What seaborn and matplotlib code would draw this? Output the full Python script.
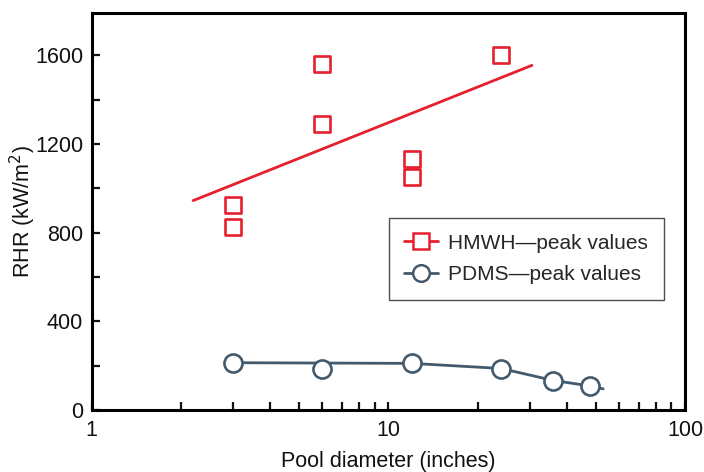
import numpy as np
import pandas as pd
import seaborn as sns
import matplotlib.pyplot as plt
from matplotlib.lines import Line2D
from matplotlib.ticker import FixedLocator, NullFormatter

# HMWH peak values (squares) and the fitted trend line
hmwh_diam = [3, 3, 6, 6, 12, 12, 24]
hmwh_rhr = [926, 828, 1560, 1289, 1131, 1053, 1603]
hmwh_fit_diam = [2.2, 30.5]
hmwh_fit_rhr = [945, 1555]

# PDMS peak values (circles) and the drawn curve
pdms_diam = [3, 6, 12, 24, 36, 48]
pdms_rhr = [214, 184, 211, 184, 132, 107]
pdms_curve_diam = [3, 12, 24, 36, 48, 53]
pdms_curve_rhr = [214, 211, 188, 134, 109, 96]

red = '#E5202E'
slate = '#435A6D'

sns.set_style('ticks')
plt.rcParams['font.family'] = ['Liberation Sans', 'DejaVu Sans']

fig = plt.figure(figsize=(7.04, 4.72), dpi=100)
ax = fig.add_axes([0.130, 0.131, 0.843, 0.841])

hmwh = pd.DataFrame({'diam': hmwh_diam, 'rhr': hmwh_rhr})
pdms = pd.DataFrame({'diam': pdms_diam, 'rhr': pdms_rhr})

# trend lines first, markers on top
sns.lineplot(x=hmwh_fit_diam, y=hmwh_fit_rhr, color=red, linewidth=2.0, ax=ax, zorder=2)
sns.lineplot(x=pdms_curve_diam, y=pdms_curve_rhr, color=slate, linewidth=2.0, ax=ax, zorder=2)
sns.scatterplot(data=hmwh, x='diam', y='rhr', marker='s', s=140, facecolor='white',
                edgecolor=red, linewidth=1.9, ax=ax, zorder=3)
sns.scatterplot(data=pdms, x='diam', y='rhr', marker='o', s=170, facecolor='white',
                edgecolor=slate, linewidth=1.9, ax=ax, zorder=3)

ax.set_xscale('log')
ax.set_xlim(1, 100)
ax.set_ylim(0, 1790)

ax.xaxis.set_major_locator(FixedLocator([1, 10, 100]))
ax.xaxis.set_minor_locator(FixedLocator([2, 3, 4, 5, 6, 7, 8, 9, 20, 30, 40, 50, 60, 70, 80, 90]))
ax.xaxis.set_minor_formatter(NullFormatter())
ax.set_xticklabels(['1', '10', '100'])
ax.yaxis.set_major_locator(FixedLocator([0, 400, 800, 1200, 1600]))
ax.yaxis.set_minor_locator(FixedLocator([200, 600, 1000, 1400]))

ax.tick_params(which='both', direction='in', length=6, width=1.6, labelsize=15.5,
               colors='#111111', top=False, right=False)
ax.tick_params(axis='y', pad=6)
ax.tick_params(axis='x', pad=7)

for side in ['top', 'right', 'bottom', 'left']:
    ax.spines[side].set_linewidth(2.2)
    ax.spines[side].set_color('black')

ax.set_xlabel('Pool diameter (inches)', fontsize=15.5, labelpad=7, color='#111111')
ax.set_ylabel('RHR (kW/m$^2$)', fontsize=15.5, labelpad=-2, color='#111111')

handles = [
    Line2D([], [], color=red, linewidth=2.0, marker='s', markersize=11,
           markerfacecolor='white', markeredgecolor=red, markeredgewidth=1.8),
    Line2D([], [], color=slate, linewidth=2.0, marker='o', markersize=12,
           markerfacecolor='white', markeredgecolor=slate, markeredgewidth=1.8),
]
leg = ax.legend(handles, ['HMWH\u2014peak values', 'PDMS\u2014peak values'],
                loc='upper left', bbox_to_anchor=(0.501, 0.484), fontsize=15,
                frameon=True, fancybox=False, handlelength=1.6, handletextpad=0.5,
                borderpad=0.75, labelspacing=0.6, borderaxespad=0)
leg.get_frame().set_edgecolor('#222222')
leg.get_frame().set_linewidth(1.0)

fig.savefig('out.png', dpi=100)
